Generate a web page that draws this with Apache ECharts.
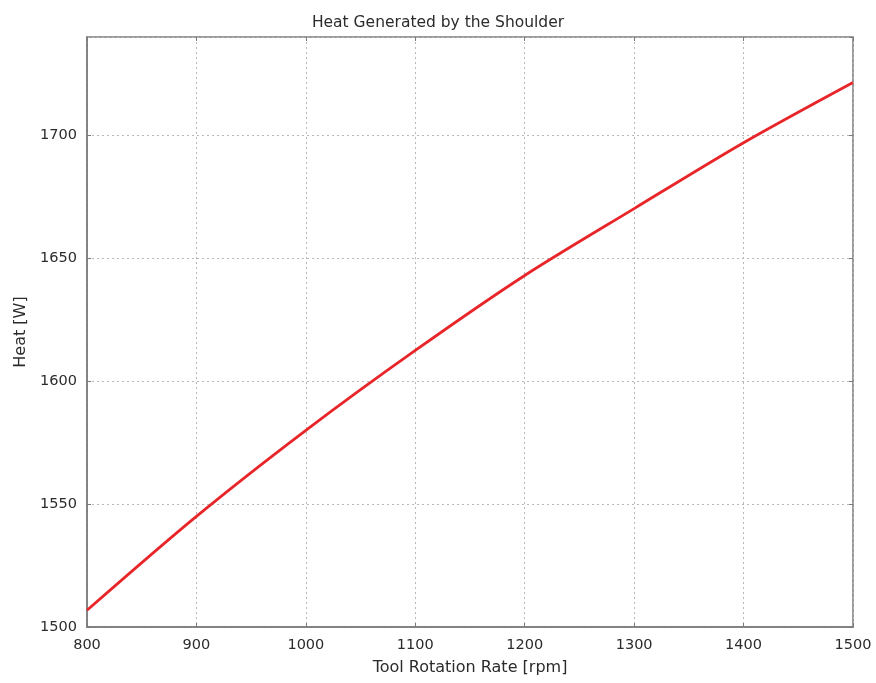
<!DOCTYPE html>
<html>
<head>
<meta charset="utf-8">
<script src="https://cdn.jsdelivr.net/npm/echarts@6/dist/echarts.min.js"></script>
<style>
  html, body { margin: 0; padding: 0; background: #ffffff; }
  #chart { width: 876px; height: 683px; }
</style>
</head>
<body>
<div id="chart"></div>
<script>
// Tool rotation rate (rpm) and heat generated by the shoulder (W)
const rotationRate = [800, 900, 1000, 1100, 1200, 1300, 1400, 1500];
const heatW = [1506.8, 1545, 1580, 1612.5, 1643, 1670.2, 1697, 1721.5];

const FONT = 'DejaVu Sans';
const TEXT = '#2b2b2b';
const FRAME = '#7a7a7a';

const points = rotationRate.map((x, i) => [x, heatW[i]]);
const plain = v => String(v);

const gridLine = { show: true, lineStyle: { color: '#b8b8b8', type: [2, 3], width: 1 } };

const chart = echarts.init(document.getElementById('chart'), null, { renderer: 'canvas' });
chart.setOption({
  animation: false,
  backgroundColor: '#ffffff',
  title: {
    text: 'Heat Generated by the Shoulder',
    left: 'center',
    top: 10,
    textStyle: { fontFamily: FONT, fontSize: 15.5, fontWeight: 'normal', color: TEXT }
  },
  grid: {
    left: 87, right: 23, top: 37, bottom: 56,
    show: true, borderColor: FRAME, borderWidth: 1.5, backgroundColor: '#ffffff'
  },
  xAxis: [{
    type: 'value',
    min: 800, max: 1500, interval: 100,
    name: 'Tool Rotation Rate [rpm]',
    nameLocation: 'middle',
    nameGap: 33,
    nameTextStyle: { fontFamily: FONT, fontSize: 16, color: TEXT, verticalAlign: 'top' },
    axisLine: { show: true, lineStyle: { color: FRAME, width: 1.5 } },
    axisTick: { show: true, inside: true, length: 4, lineStyle: { color: FRAME } },
    axisLabel: { fontFamily: FONT, fontSize: 14.5, color: TEXT, margin: 11, formatter: plain },
    splitLine: gridLine
  }, {
    type: 'value', position: 'top',
    min: 800, max: 1500, interval: 100,
    axisLine: { show: false },
    axisTick: { show: true, inside: true, length: 4, lineStyle: { color: FRAME } },
    axisLabel: { show: false },
    splitLine: { show: false }
  }],
  yAxis: [{
    type: 'value',
    min: 1500, max: 1740, interval: 50,
    name: 'Heat [W]',
    nameLocation: 'middle',
    nameGap: 56,
    nameRotate: 90,
    nameTextStyle: { fontFamily: FONT, fontSize: 16, color: TEXT },
    axisLine: { show: true, lineStyle: { color: FRAME, width: 1.5 } },
    axisTick: { show: true, inside: true, length: 4, lineStyle: { color: FRAME } },
    axisLabel: { fontFamily: FONT, fontSize: 14.5, color: TEXT, margin: 10, showMaxLabel: false, formatter: plain },
    splitLine: gridLine
  }, {
    type: 'value', position: 'right',
    min: 1500, max: 1740, interval: 50,
    axisLine: { show: false },
    axisTick: { show: true, inside: true, length: 4, lineStyle: { color: FRAME } },
    axisLabel: { show: false },
    splitLine: { show: false }
  }],
  series: [{
    type: 'line',
    data: points,
    xAxisIndex: 0,
    yAxisIndex: 0,
    smooth: 0.3,
    showSymbol: false,
    lineStyle: { color: '#e8262a', width: 2.8 },
    z: 5
  }]
});
</script>
</body>
</html>
